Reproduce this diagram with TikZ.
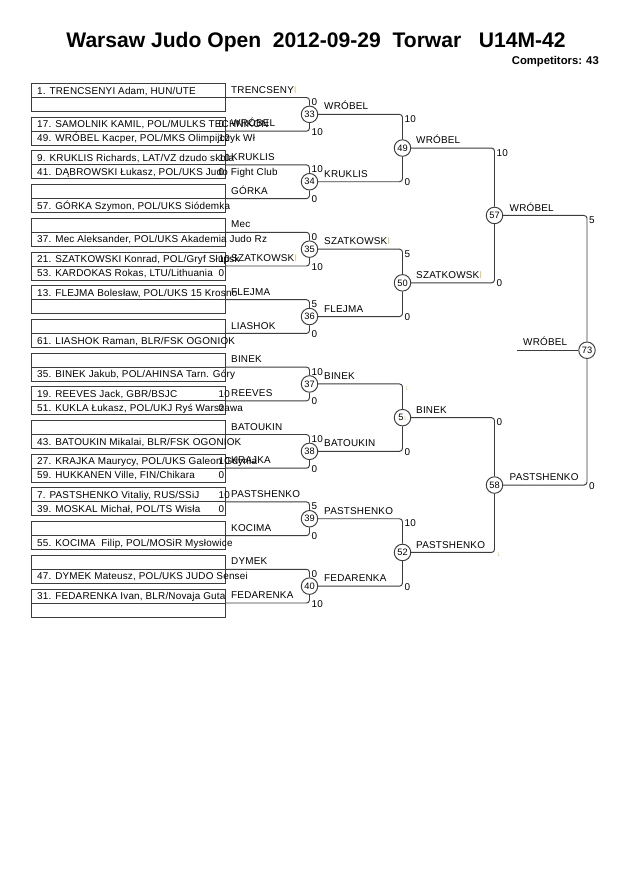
\documentclass[tikz,border=0pt]{standalone}
\usepackage{fontspec}
\setmainfont{Liberation Sans}
\newfontfamily\smfam[LetterSpace=2]{Liberation Sans}
\definecolor{ln}{HTML}{3C3C3C}
\definecolor{faint}{HTML}{D8C878}
\newcommand\smf{\smfam\fontsize{9.4}{11}\selectfont}
\tikzset{
  boxl/.style={draw=ln, line width=0.9pt},
  br/.style={draw=ln, line width=0.9pt, rounded corners=1mm},
  btxt/.style={anchor=base west, inner sep=0pt, font=\smf},
  mc/.style={circle, draw=ln, line width=0.9pt, fill=white, minimum size=5.5mm, inner sep=0pt, font=\fontsize{8.8}{10}\selectfont},
}
\newcommand\bpair[6]{%
  \pgfmathsetmacro\yy{97.5+33.7*(#1-1)}
  \draw[boxl] (31,\yy-14) rectangle (225,\yy);
  \draw[boxl] (31,\yy) rectangle (225,\yy+14);
  \coordinate (p#1) at (225,\yy);
  \node[btxt] (ra#1) at (37,\yy-3.4) {#2};
  \node[btxt] (rb#1) at (37,\yy+10.6) {#3};
  \node[btxt] (lb#1) at (231,\yy-4.4) {#4};
  \node[btxt] (sa#1) at (218.5,\yy-3.4) {#5};
  \node[btxt] (sb#1) at (218.5,\yy+10.6) {#6};
}
\begin{document}
\begin{tikzpicture}[x=0.333333mm,y=-0.333333mm]
\useasboundingbox[fill=white] (0,0) rectangle (630,891);
% title
\node[anchor=base, inner sep=0pt, font=\fontsize{20}{24}\selectfont\bfseries] (title) at (316,47.5)
  {Warsaw Judo Open\ \ 2012-09-29\ \ Torwar\ \ \ U14M-42};
\node[anchor=base east, inner sep=0pt, font=\fontsize{10.7}{12}\selectfont\bfseries] (comp) at (599,64.3)
  {Competitors: 43};
% competitor boxes
\bpair{1}{1. TRENCSENYI Adam, HUN/UTE}{}{TRENCSENY{\color{faint}I}}{}{}
\bpair{2}{17. SAMOLNIK KAMIL, POL/MULKS TECHNIKON}{49. WRÓBEL Kacper, POL/MKS Olimpijczyk Wł}{WRÓBEL}{0}{10}
\bpair{3}{9. KRUKLIS Richards, LAT/VZ dzudo skola}{41. DĄBROWSKI Łukasz, POL/UKS Judo Fight Club}{KRUKLIS}{10}{0}
\bpair{4}{}{57. GÓRKA Szymon, POL/UKS Siódemka}{GÓRKA}{}{}
\bpair{5}{}{37. Mec Aleksander, POL/UKS Akademia Judo Rz}{Mec}{}{}
\bpair{6}{21. SZATKOWSKI Konrad, POL/Gryf Słupsk}{53. KARDOKAS Rokas, LTU/Lithuania}{SZATKOWSK{\color{faint}I}}{10}{0}
\bpair{7}{13. FLEJMA Bolesław, POL/UKS 15 Krosno}{}{FLEJMA}{}{}
\bpair{8}{}{61. LIASHOK Raman, BLR/FSK OGONIOK}{LIASHOK}{}{}
\bpair{9}{}{35. BINEK Jakub, POL/AHINSA Tarn. Góry}{BINEK}{}{}
\bpair{10}{19. REEVES Jack, GBR/BSJC}{51. KUKLA Łukasz, POL/UKJ Ryś Warszawa}{REEVES}{10}{0}
\bpair{11}{}{43. BATOUKIN Mikalai, BLR/FSK OGONIOK}{BATOUKIN}{}{}
\bpair{12}{27. KRAJKA Maurycy, POL/UKS Galeon Gdynia}{59. HUKKANEN Ville, FIN/Chikara}{KRAJKA}{10}{0}
\bpair{13}{7. PASTSHENKO Vitaliy, RUS/SSiJ}{39. MOSKAL Michał, POL/TS Wisła}{PASTSHENKO}{10}{0}
\bpair{14}{}{55. KOCIMA\ \ Filip, POL/MOSiR Mysłowice}{KOCIMA}{}{}
\bpair{15}{}{47. DYMEK Mateusz, POL/UKS JUDO Sensei}{DYMEK}{}{}
\bpair{16}{31. FEDARENKA Ivan, BLR/Novaja Guta}{}{FEDARENKA}{}{}
% match circles
\node[mc] (m33) at (309.5,114.35) {33};
\node[mc] (m34) at (309.5,181.75) {34};
\node[mc] (m35) at (309.5,249.15) {35};
\node[mc] (m36) at (309.5,316.55) {36};
\node[mc] (m37) at (309.5,383.95) {37};
\node[mc] (m38) at (309.5,451.35) {38};
\node[mc] (m39) at (309.5,518.75) {39};
\node[mc] (m40) at (309.5,586.15) {40};
\node[mc] (m49) at (402.5,148.05) {49};
\node[mc] (m50) at (402.5,282.85) {50};
\node[mc] (m51) at (402.5,417.65) {5{\color{faint}\fontsize{5}{5}\selectfont 1}};
\node[mc] (m52) at (402.5,552.45) {52};
\node[mc] (m57) at (494.5,215.45) {57};
\node[mc] (m58) at (494.5,485.05) {58};
\node[mc] (m73) at (587,350.25) {73};
% round 1 connectors
\draw[br] (p1) -| (m33);  \draw[br] (p2) -| (m33);
\draw[br] (p3) -| (m34);  \draw[br] (p4) -| (m34);
\draw[br] (p5) -| (m35);  \draw[br] (p6) -| (m35);
\draw[br] (p7) -| (m36);  \draw[br] (p8) -| (m36);
\draw[br] (p9) -| (m37);  \draw[br] (p10) -| (m37);
\draw[br] (p11) -| (m38); \draw[br] (p12) -| (m38);
\draw[br] (p13) -| (m39); \draw[br] (p14) -| (m39);
\draw[br] (p15) -| (m40); \draw[br] (p16) -| (m40);
% round 2 connectors
\draw[br] (m33) -| (m49); \draw[br] (m34) -| (m49);
\draw[br] (m35) -| (m50); \draw[br] (m36) -| (m50);
\draw[br] (m37) -| (m51); \draw[br] (m38) -| (m51);
\draw[br] (m39) -| (m52); \draw[br] (m40) -| (m52);
% round 3 connectors
\draw[br] (m49) -| (m57); \draw[br] (m50) -| (m57);
\draw[br] (m51) -| (m58); \draw[br] (m52) -| (m58);
% final connectors
\draw[br] (m57) -| (m73); \draw[br] (m58) -| (m73);
\coordinate (fw) at (517,350.25);
\draw[br] (fw) -- (m73);
% round 1 scores
\node[btxt] (s33a) at (311.5,105.5) {0};   \node[btxt] (s33b) at (311.5,135.2) {10};
\node[btxt] (s34a) at (311.5,172.9) {10};  \node[btxt] (s34b) at (311.5,202.6) {0};
\node[btxt] (s35a) at (311.5,240.3) {0};   \node[btxt] (s35b) at (311.5,270) {10};
\node[btxt] (s36a) at (311.5,307.7) {5};   \node[btxt] (s36b) at (311.5,337.4) {0};
\node[btxt] (s37a) at (311.5,375.1) {10};  \node[btxt] (s37b) at (311.5,404.8) {0};
\node[btxt] (s38a) at (311.5,442.5) {10};  \node[btxt] (s38b) at (311.5,472.2) {0};
\node[btxt] (s39a) at (311.5,509.9) {5};   \node[btxt] (s39b) at (311.5,539.6) {0};
\node[btxt] (s40a) at (311.5,577.3) {0};   \node[btxt] (s40b) at (311.5,607) {10};
% round 1 winners
\node[btxt] (w33) at (324,109.95) {WRÓBEL};
\node[btxt] (w34) at (324,177.35) {KRUKLIS};
\node[btxt] (w35) at (324,244.75) {SZATKOWSK{\color{faint}I}};
\node[btxt] (w36) at (324,312.15) {FLEJMA};
\node[btxt] (w37) at (324,379.55) {BINEK};
\node[btxt] (w38) at (324,446.95) {BATOUKIN};
\node[btxt] (w39) at (324,514.35) {PASTSHENKO};
\node[btxt] (w40) at (324,581.75) {FEDARENKA};
% round 2 scores
\node[btxt] (s49a) at (404.5,122.35) {10};  \node[btxt] (s49b) at (404.5,185.75) {0};
\node[btxt] (s50a) at (404.5,257.15) {5};   \node[btxt] (s50b) at (404.5,320.55) {0};
\node[btxt, font=\fontsize{5}{5}\selectfont, text=faint] (s51a) at (405,390) {1};
\node[btxt] (s51b) at (404.5,455.35) {0};
\node[btxt] (s52a) at (404.5,526.75) {10};  \node[btxt] (s52b) at (404.5,590.15) {0};
% round 2 winners
\node[btxt] (w49) at (416,143.65) {WRÓBEL};
\node[btxt] (w50) at (416,278.45) {SZATKOWSK{\color{faint}I}};
\node[btxt] (w51) at (416,413.25) {BINEK};
\node[btxt] (w52) at (416,548.05) {PASTSHENKO};
% round 3 scores
\node[btxt] (s57a) at (496.5,156.05) {10};  \node[btxt] (s57b) at (496.5,286.85) {0};
\node[btxt] (s58a) at (496.5,425.65) {0};
\node[btxt, font=\fontsize{5}{5}\selectfont, text=faint] (s58b) at (497,556) {1};
% round 3 winners
\node[btxt] (w57) at (509.5,211.05) {WRÓBEL};
\node[btxt] (w58) at (509.5,480.65) {PASTSHENKO};
% final
\node[btxt] (s73a) at (589,223.45) {5};  \node[btxt] (s73b) at (589,489.05) {0};
\node[btxt] (w73) at (523,345.85) {WRÓBEL};
\end{tikzpicture}
\end{document}
